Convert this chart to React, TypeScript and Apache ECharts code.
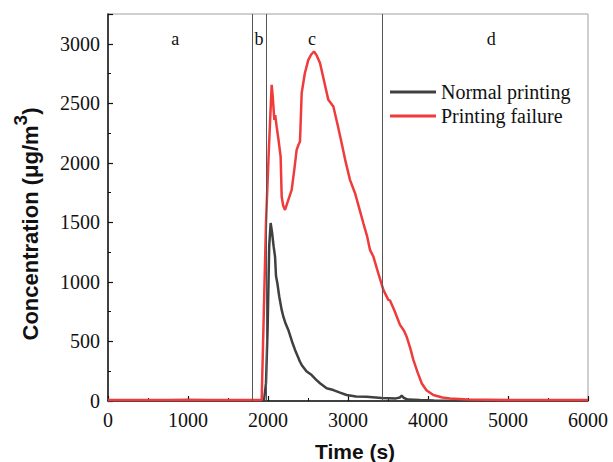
import React, { useEffect, useRef } from "react";
import * as echarts from "echarts";

const normalTime = [0, 500, 1000, 1500, 1900, 1950, 1975, 1995, 2015, 2033, 2050, 2070, 2088, 2100, 2117, 2140, 2171, 2192, 2220, 2254, 2300, 2338, 2400, 2421, 2480, 2546, 2600, 2650, 2733, 2817, 2900, 2983, 3100, 3233, 3420, 3600, 3650, 3671, 3700, 3750, 3900, 4075, 5000, 6000];
const normalVal = [5, 5, 8, 5, 3, 5, 150, 600, 1300, 1495, 1420, 1300, 1213, 1050, 989, 880, 765, 708, 650, 597, 500, 429, 330, 303, 250, 218, 180, 149, 107, 92, 70, 50, 38, 36, 25, 22, 30, 45, 25, 12, 8, 4, 3, 3];

const failureTime = [0, 1000, 1900, 1921, 1975, 2010, 2046, 2060, 2079, 2090, 2108, 2130, 2158, 2171, 2190, 2213, 2250, 2296, 2330, 2358, 2380, 2400, 2421, 2460, 2504, 2540, 2575, 2610, 2650, 2700, 2754, 2817, 2870, 2921, 2970, 3025, 3088, 3140, 3192, 3240, 3275, 3317, 3380, 3442, 3504, 3525, 3580, 3650, 3700, 3733, 3780, 3817, 3870, 3921, 3980, 4067, 4180, 4275, 4500, 5000, 6000];
const failureVal = [8, 8, 8, 10, 1495, 2100, 2655, 2550, 2361, 2400, 2305, 2200, 2053, 1717, 1640, 1605, 1680, 1773, 1950, 2109, 2150, 2179, 2586, 2750, 2865, 2910, 2935, 2900, 2838, 2690, 2529, 2473, 2320, 2165, 2010, 1857, 1745, 1620, 1493, 1380, 1269, 1213, 1070, 933, 849, 845, 760, 639, 590, 540, 440, 345, 240, 149, 90, 50, 30, 22, 12, 8, 8];

const stageBounds = [1800, 1975, 3425];
const stageLabels = ["a", "b", "c", "d"];
const stageLabelX = [840, 1888, 2550, 4790];
const stageLabelY = 3040;

const xTicks = { min: 0, max: 6000, interval: 1000 };
const yTicks = { min: 0, max: 3250, interval: 500 };

const serif = "'Liberation Serif', 'Times New Roman', serif";
const sans = "'Liberation Sans', Arial, sans-serif";

export default function App() {
  const ref = useRef<HTMLDivElement>(null);
  useEffect(() => {
    if (!ref.current) return;
    const chart = echarts.init(ref.current, null, { renderer: "svg" });
    const zip = (a: number[], b: number[]) => a.map((v, i) => [v, b[i]]);
    chart.setOption({
      animation: false,
      backgroundColor: "#fff",
      grid: {
        left: 108,
        top: 14,
        right: 25,
        bottom: 61,
        show: true,
        borderColor: "#a0a0a0",
        borderWidth: 1,
      },
      legend: {
        orient: "vertical",
        left: 390,
        top: 82,
        padding: 0,
        icon: "rect",
        itemWidth: 46,
        itemHeight: 3,
        itemGap: 4,
        textStyle: { fontFamily: serif, fontSize: 20, lineHeight: 20, color: "#111" },
        data: ["Normal printing", "Printing failure"],
      },
      xAxis: {
        type: "value",
        min: xTicks.min,
        max: xTicks.max,
        interval: xTicks.interval,
        splitLine: { show: false },
        axisLine: { show: true, onZero: false, lineStyle: { color: "#111", width: 1.5 } },
        axisTick: { show: true, inside: true, length: 5, lineStyle: { color: "#111", width: 1.2 } },
        minorTick: { show: true, splitNumber: 2, length: 3, lineStyle: { color: "#111", width: 1 } },
        axisLabel: { fontFamily: serif, fontSize: 20, color: "#111", margin: 9, formatter: (v: number) => String(v) },
      },
      yAxis: {
        type: "value",
        min: yTicks.min,
        max: yTicks.max,
        interval: yTicks.interval,
        splitLine: { show: false },
        axisLine: { show: true, onZero: false, lineStyle: { color: "#111", width: 1.5 } },
        axisTick: { show: true, inside: true, length: 5, lineStyle: { color: "#111", width: 1.2 } },
        minorTick: { show: true, splitNumber: 2, length: 3, lineStyle: { color: "#111", width: 1 } },
        axisLabel: { fontFamily: serif, fontSize: 20, color: "#111", margin: 8, showMaxLabel: false, formatter: (v: number) => String(v) },
      },
      graphic: [
        {
          type: "text",
          x: 355,
          y: 451,
          style: {
            text: "Time (s)",
            fontFamily: sans,
            fontWeight: "bold",
            fontSize: 21,
            fill: "#111",
            align: "center",
            verticalAlign: "middle",
          },
        },
        {
          type: "text",
          x: 26,
          y: 224,
          rotation: Math.PI / 2,
          style: {
            text: "{a|Concentration (μg/m}{s|3}{a|)}",
            align: "center",
            verticalAlign: "middle",
            rich: {
              a: { fontFamily: sans, fontWeight: "bold", fontSize: 22, lineHeight: 30, fill: "#111", verticalAlign: "bottom" },
              s: { fontFamily: sans, fontWeight: "bold", fontSize: 19, lineHeight: 19, fill: "#111", verticalAlign: "top" },
            },
          },
        },
      ],
      series: [
        {
          name: "Normal printing",
          type: "line",
          data: zip(normalTime, normalVal),
          showSymbol: false,
          symbol: "none",
          lineStyle: { color: "#404040", width: 2.5 },
          itemStyle: { color: "#404040" },
          z: 3,
          markLine: {
            silent: true,
            symbol: "none",
            label: { show: false },
            lineStyle: { color: "#555", width: 1, type: "solid" },
            data: stageBounds.map((v) => ({ xAxis: v })),
          },
        },
        {
          name: "Printing failure",
          type: "line",
          data: zip(failureTime, failureVal),
          showSymbol: false,
          symbol: "none",
          lineStyle: { color: "#ef3b3b", width: 2.5 },
          itemStyle: { color: "#ef3b3b" },
          z: 4,
          markPoint: {
            silent: true,
            symbol: "circle",
            symbolSize: 0,
            label: {
              show: true,
              position: "inside",
              fontFamily: serif,
              fontSize: 18,
              color: "#111",
              formatter: (p: any) => p.name,
            },
            data: stageLabels.map((l, i) => ({ name: l, coord: [stageLabelX[i], stageLabelY] })),
          },
        },
      ],
    });
    return () => chart.dispose();
  }, []);
  return <div ref={ref} style={{ position: "absolute", left: 0, top: 0, width: 613, height: 462 }} />;
}
